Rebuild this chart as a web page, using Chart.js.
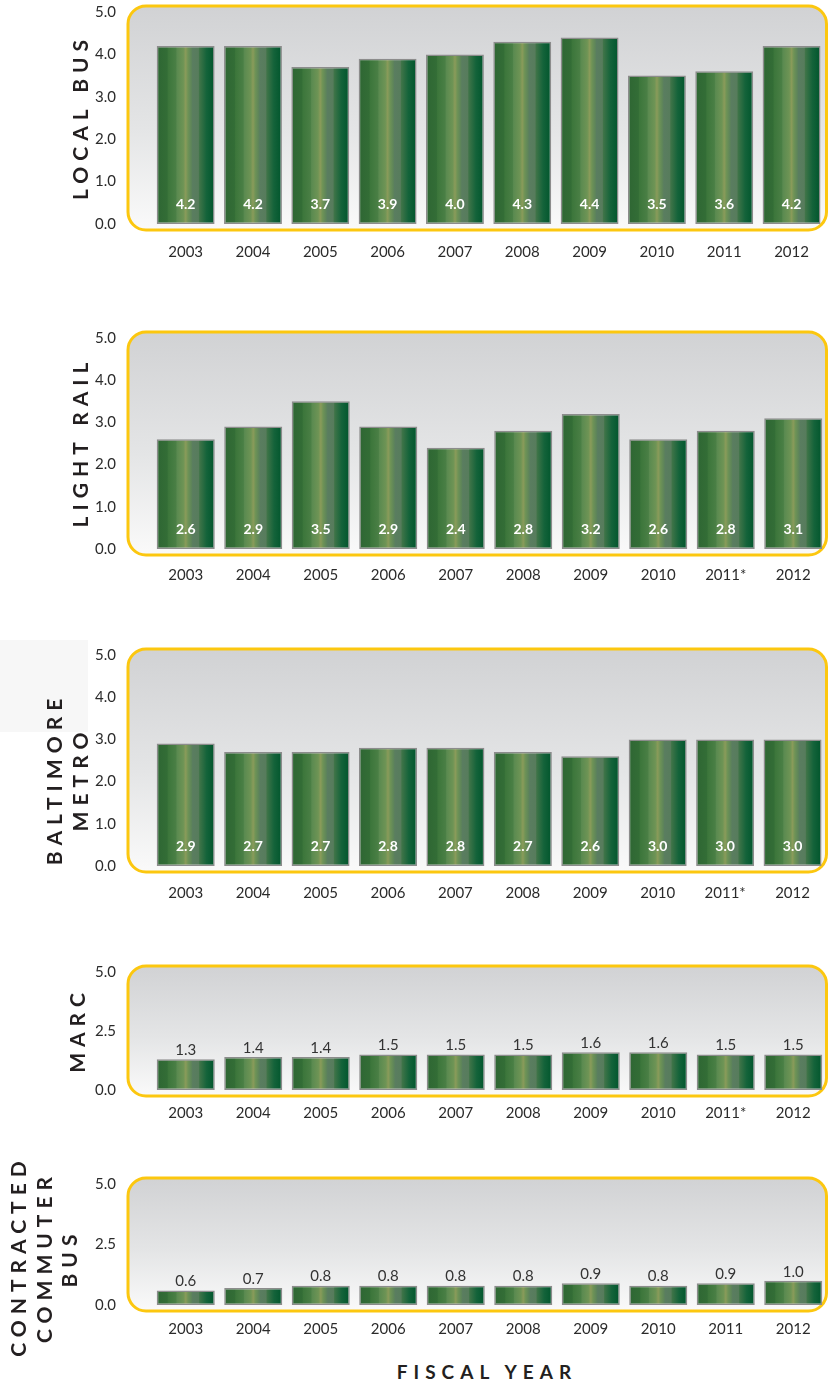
<!DOCTYPE html>
<html>
<head>
<meta charset="utf-8">
<script src="https://cdn.jsdelivr.net/npm/chart.js@4/dist/chart.umd.min.js"></script>
<style>
  body { margin: 0; width: 828px; height: 1383px; background: #fff; position: relative; overflow: hidden; font-family: Lato, sans-serif; }
  canvas { position: absolute; left: 0; }
  .title { position: absolute; transform: translate(-50%, -50%) rotate(-90deg); font: bold 21px Lato, sans-serif; letter-spacing: 6px; color: #231f20; white-space: nowrap; }
  .axis-title { position: absolute; left: 487px; top: 1371px; transform: translate(-50%, -50%); font: bold 19px Lato, sans-serif; letter-spacing: 6px; color: #231f20; white-space: nowrap; }
  .smudge { position: absolute; left: 0; top: 640px; width: 88px; height: 92px; background: #f7f7f7; }
</style>
</head>
<body>
<div class="smudge"></div>
<canvas id="localBus" width="828"></canvas>
<canvas id="lightRail" width="828"></canvas>
<canvas id="metro" width="828"></canvas>
<canvas id="marc" width="828"></canvas>
<canvas id="commuter" width="828"></canvas>

<div class="title" style="left:79px; top:117px">LOCAL BUS</div>
<div class="title" style="left:79px; top:442px">LIGHT RAIL</div>
<div class="title" style="left:53px; top:779px">BALTIMORE</div>
<div class="title" style="left:79px; top:779px">METRO</div>
<div class="title" style="left:76px; top:1030px">MARC</div>
<div class="title" style="left:17px; top:1256px">CONTRACTED</div>
<div class="title" style="left:43px; top:1257px">COMMUTER</div>
<div class="title" style="left:68px; top:1258px">BUS</div>
<div class="axis-title">FISCAL YEAR</div>

<script>
// fiscal years
const years = ["2003", "2004", "2005", "2006", "2007", "2008", "2009", "2010", "2011", "2012"];
const yearsStar = ["2003", "2004", "2005", "2006", "2007", "2008", "2009", "2010", "2011*", "2012"];

// values per mode
const localBus = [4.2, 4.2, 3.7, 3.9, 4.0, 4.3, 4.4, 3.5, 3.6, 4.2];
const lightRail = [2.6, 2.9, 3.5, 2.9, 2.4, 2.8, 3.2, 2.6, 2.8, 3.1];
const metro = [2.9, 2.7, 2.7, 2.8, 2.8, 2.7, 2.6, 3.0, 3.0, 3.0];
const marc = [1.3, 1.4, 1.4, 1.5, 1.5, 1.5, 1.6, 1.6, 1.5, 1.5];
const commuter = [0.6, 0.7, 0.8, 0.8, 0.8, 0.8, 0.9, 0.8, 0.9, 1.0];

const BAR_PCT = 0.86;

function barFill(ctx) {
    const chart = ctx.chart;
    const xs = chart.scales.x;
    if (!chart.chartArea || !xs || ctx.type !== "data") return "#3a7238";
    const cx = xs.getPixelForValue(ctx.dataIndex);
    const half = (xs.width / chart.data.labels.length) * BAR_PCT / 2;
    const g = chart.ctx.createLinearGradient(cx - half, 0, cx + half, 0);
    g.addColorStop(0, "#2e6633");
    g.addColorStop(0.18, "#336d36");
    g.addColorStop(0.2, "#3c763b");
    g.addColorStop(0.33, "#4a7f45");
    g.addColorStop(0.35, "#5a8a50");
    g.addColorStop(0.46, "#6e9455");
    g.addColorStop(0.5, "#8a9b5a");
    g.addColorStop(0.54, "#6e9356");
    g.addColorStop(0.6, "#5d845a");
    g.addColorStop(0.62, "#5a7d60");
    g.addColorStop(0.72, "#577c5c");
    g.addColorStop(0.74, "#3f7448");
    g.addColorStop(0.86, "#14633a");
    g.addColorStop(1, "#00552c");
    return g;
}

// rounded yellow frame + grey gradient behind the bars
const framePlugin = {
    id: "frame",
    beforeDraw(chart) {
        const { ctx, chartArea } = chart;
        const x0 = 128, x1 = 826.5;
        const y0 = chartArea.top - 6, y1 = chartArea.bottom + 6;
        const r = 18;
        ctx.save();
        ctx.beginPath();
        ctx.moveTo(x0 + r, y0);
        ctx.lineTo(x1 - r, y0);
        ctx.arcTo(x1, y0, x1, y0 + r, r);
        ctx.lineTo(x1, y1 - r);
        ctx.arcTo(x1, y1, x1 - r, y1, r);
        ctx.lineTo(x0 + r, y1);
        ctx.arcTo(x0, y1, x0, y1 - r, r);
        ctx.lineTo(x0, y0 + r);
        ctx.arcTo(x0, y0, x0 + r, y0, r);
        ctx.closePath();
        const g = ctx.createLinearGradient(0, y0, 0, y1);
        g.addColorStop(0, "#d1d2d4");
        g.addColorStop(0.55, "#e4e5e6");
        g.addColorStop(1, "#fafafa");
        ctx.fillStyle = g;
        ctx.fill();
        ctx.lineWidth = 3;
        ctx.strokeStyle = "#fcc70f";
        ctx.stroke();
        ctx.restore();
    },
};

// value labels, white inside the bar or grey above it
const valuePlugin = {
    id: "values",
    afterDatasetsDraw(chart, args, opts) {
        const { ctx, chartArea } = chart;
        const meta = chart.getDatasetMeta(0);
        const vals = chart.data.datasets[0].data;
        ctx.save();
        ctx.textAlign = "center";
        ctx.textBaseline = "middle";
        meta.data.forEach((bar, i) => {
            const txt = vals[i].toFixed(1);
            if (opts.inside) {
                ctx.font = "bold 14px Lato, sans-serif";
                ctx.fillStyle = "#ffffff";
                ctx.fillText(txt, bar.x, chartArea.bottom - 20);
            } else {
                ctx.font = "15px Lato, sans-serif";
                ctx.fillStyle = "#333333";
                ctx.fillText(txt, bar.x, bar.y - 9);
            }
        });
        ctx.restore();
    },
};

function makePanel(id, plotTop, plotBottom, labels, values, step, inside, labelPad) {
    const canvas = document.getElementById(id);
    const top = plotTop - 12;
    canvas.style.top = top + "px";
    canvas.height = plotBottom + 46 - top;
    new Chart(canvas, {
        type: "bar",
        data: {
            labels: labels,
            datasets: [
                {
                    data: values,
                    backgroundColor: barFill,
                    borderColor: "#8c8c8c",
                    borderWidth: 1.5,
                    borderSkipped: false,
                    categoryPercentage: BAR_PCT,
                    barPercentage: 1,
                },
            ],
        },
        options: {
            responsive: false,
            animation: false,
            layout: { padding: { top: 12, right: 1, left: 0, bottom: 0 } },
            plugins: {
                legend: { display: false },
                tooltip: { enabled: false },
                values: { inside: inside },
            },
            scales: {
                x: {
                    grid: { display: false, drawTicks: false },
                    border: { display: false },
                    ticks: { color: "#2b2b2b", font: { family: "Lato", size: 15 }, padding: labelPad, maxRotation: 0 },
                    afterFit(scale) { scale.height = 46; },
                },
                y: {
                    min: 0,
                    max: 5,
                    grid: { display: false, drawTicks: false },
                    border: { display: false },
                    ticks: {
                        stepSize: step,
                        color: "#2b2b2b",
                        font: { family: "Lato", size: 15 },
                        padding: 36,
                        callback: (v) => Number(v).toFixed(1),
                    },
                    afterFit(scale) {
                        scale.width = 152;
                        // tick padding is only meant to push labels left
                        scale.paddingTop = 0;
                        scale.paddingBottom = 0;
                    },
                },
            },
        },
        plugins: [framePlugin, valuePlugin],
    });
}

makePanel("localBus", 12, 224, years, localBus, 1, true, 19);
makePanel("lightRail", 338, 549, yearsStar, lightRail, 1, true, 17);
makePanel("metro", 655, 866, yearsStar, metro, 1, true, 18);
makePanel("marc", 972, 1090, yearsStar, marc, 2.5, false, 14);
makePanel("commuter", 1184, 1305, years, commuter, 2.5, false, 15);
</script>
</body>
</html>
